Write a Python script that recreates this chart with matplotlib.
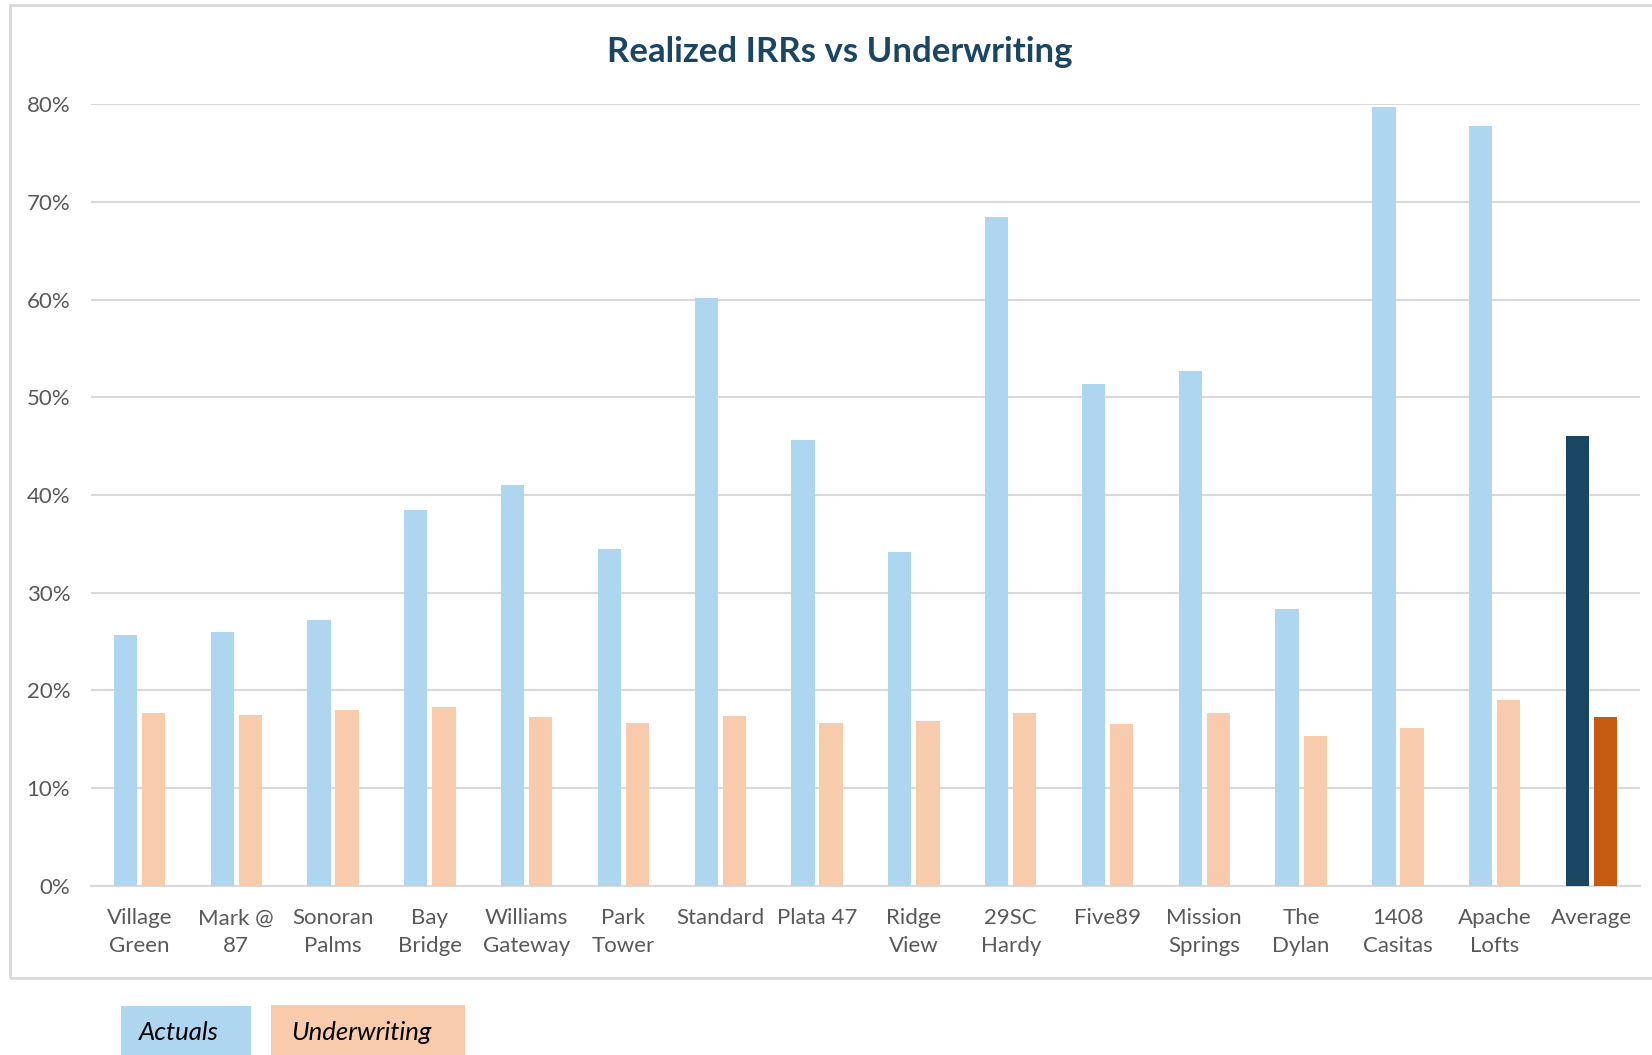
import numpy as np
import matplotlib.pyplot as plt
from matplotlib.patches import Rectangle
from matplotlib.ticker import PercentFormatter

# Values (IRR, %)
properties = ['Village\nGreen', 'Mark @\n87', 'Sonoran\nPalms', 'Bay\nBridge', 'Williams\nGateway',
              'Park\nTower', 'Standard', 'Plata 47', 'Ridge\nView', '29SC\nHardy', 'Five89',
              'Mission\nSprings', 'The\nDylan', '1408\nCasitas', 'Apache\nLofts', 'Average']
actuals = [25.7, 26.0, 27.2, 38.5, 41.0, 34.5, 60.2, 45.6, 34.2, 68.4, 51.4, 52.7, 28.3, 79.7, 77.8, 46.0]
underwriting = [17.7, 17.5, 18.0, 18.3, 17.3, 16.7, 17.4, 16.7, 16.9, 17.7, 16.6, 17.7, 15.3, 16.2, 19.0, 17.3]

plt.rcParams['font.family'] = ['Lato', 'DejaVu Sans']

c_act = '#afd6f0'
c_uw = '#f8cbad'
c_act_avg = '#1a4664'
c_uw_avg = '#c55a11'

fig = plt.figure(figsize=(16.52, 10.55), dpi=100)
ax = fig.add_axes([0.0551, 0.1602, 0.9376, 0.7412])

x = np.arange(len(properties))
w = 0.24
act_colors = [c_act] * (len(x) - 1) + [c_act_avg]
uw_colors = [c_uw] * (len(x) - 1) + [c_uw_avg]
ax.bar(x - 0.145, actuals, width=w, color=act_colors, zorder=3)
ax.bar(x + 0.145, underwriting, width=w, color=uw_colors, zorder=3)

ax.set_xlim(-0.5, len(x) - 0.5)
ax.set_ylim(0, 80)
ax.set_yticks(np.arange(0, 81, 10))
ax.yaxis.set_major_formatter(PercentFormatter(decimals=0))
ax.grid(axis='y', color='#d9d9d9', linewidth=1.5, zorder=0)
ax.set_xticks(x)
ax.set_xticklabels(properties, linespacing=1.5)
ax.tick_params(axis='both', length=0, labelsize=16, labelcolor='#595959')
ax.tick_params(axis='y', pad=15)
ax.tick_params(axis='x', pad=16)
for s in ['top', 'right', 'left']:
    ax.spines[s].set_visible(False)
ax.spines['bottom'].set_color('#d9d9d9')
ax.spines['bottom'].set_linewidth(1.5)

fig.text(0.5085, 0.951, 'Realized IRRs vs Underwriting', ha='center', va='center',
         fontsize=25, fontweight='bold', color=c_act_avg)

# chart frame
fig.patches.append(Rectangle((0.006, 0.073), 1.1, 0.922, transform=fig.transFigure,
                             fill=False, edgecolor='#d9d9d9', linewidth=2))

# legend boxes
fig.patches.append(Rectangle((0.0732, -0.01), 0.0787, 0.0564, transform=fig.transFigure,
                             facecolor=c_act, edgecolor='none'))
fig.patches.append(Rectangle((0.164, -0.01), 0.1174, 0.0574, transform=fig.transFigure,
                             facecolor=c_uw, edgecolor='none'))
fig.text(0.1085, 0.021, 'Actuals', ha='center', va='center', fontsize=18.5, style='italic', color='black')
fig.text(0.2188, 0.021, 'Underwriting', ha='center', va='center', fontsize=18.5, style='italic', color='black')

fig.savefig('out.png', dpi=100)
